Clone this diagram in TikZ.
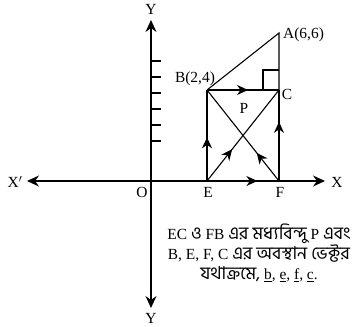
\documentclass[tikz,border=0pt]{standalone}
\usepackage{fontspec}
\setmainfont{Liberation Serif}
\newfontfamily\bn[Script=Bengali,Scale=1.15]{Hind Siliguri}
\usetikzlibrary{arrows.meta,decorations.markings}
\begin{document}
\begin{tikzpicture}[x=1bp,y=-1bp,
  ln/.style={line width=1.1pt},
  axis/.style={ln,-{Stealth[length=12bp,width=11bp,inset=4bp]}},
  lbl/.style={font=\fontsize{15.5}{17}\selectfont, inner sep=0pt},
  marr/.style={postaction={decorate},decoration={markings,mark=at position #1 with {\arrow{Stealth[length=11bp,width=10bp,inset=3.5bp]}}}},
]
\useasboundingbox (0,0) rectangle (356,327);
\coordinate (O) at (151,181);
\coordinate (E) at (207,181);
\coordinate (F) at (279,181);
\coordinate (B) at (207,90);
\coordinate (C) at (279,90);
\coordinate (A) at (279,33);
\coordinate (xl) at (27,181);
\coordinate (xr) at (325,181);
\coordinate (yt) at (151,20);
\coordinate (yb) at (151,308);
\coordinate (r1) at (263,90);
\coordinate (r2) at (263,70);
\coordinate (r3) at (279,70);
% axes
\draw[axis] (O) -- (xr);
\draw[axis] (O) -- (xl);
\draw[axis] (O) -- (yt);
\draw[axis] (O) -- (yb);
\foreach \y in {61,77,93,109,125,141} \draw[ln] (151,\y) -- (161,\y);
% figure
\draw[ln] (B) -- (A) -- (C);
\draw[ln] (r1) -- (r2) -- (r3);
\draw[ln,marr=0.57] (B) -- (C);
\draw[ln,marr=0.7] (E) -- (F);
\draw[ln,marr=0.48] (E) -- (B);
\draw[ln,marr=0.65] (F) -- (C);
\draw[ln,marr=0.35] (E) -- (C);
\draw[ln,marr=0.31] (F) -- (B);
% labels
\node[lbl,anchor=west] (lA) at (283,35) {A(6,6)};
\node[lbl] (lB) at (195,79) {B(2,4)};
\node[lbl] (lC) at (287,94) {C};
\node[lbl] (lP) at (244,108) {P};
\node[lbl] (lO) at (142,192) {O};
\node[lbl] (lE) at (208,192) {E};
\node[lbl] (lF) at (280,192) {F};
\node[lbl] (lX) at (337,182) {X};
\node[lbl] (lXp) at (15,182) {X$'$};
\node[lbl] (lYt) at (151,9) {Y};
\node[lbl] (lYb) at (151,318) {Y};
\node[font=\fontsize{15.5}{20}\selectfont, align=center, inner sep=0pt] (txt) at (259,253)
 {EC {\bn ও} FB {\bn এর মধ্যবিন্দু} P {\bn এবং}\\
  B, E, F, C {\bn এর অবস্থান ভেক্টর}\\
  {\bn যথাক্রমে,} \underline{b}, \underline{e}, \underline{f}, \underline{c}.};
\end{tikzpicture}
\end{document}
